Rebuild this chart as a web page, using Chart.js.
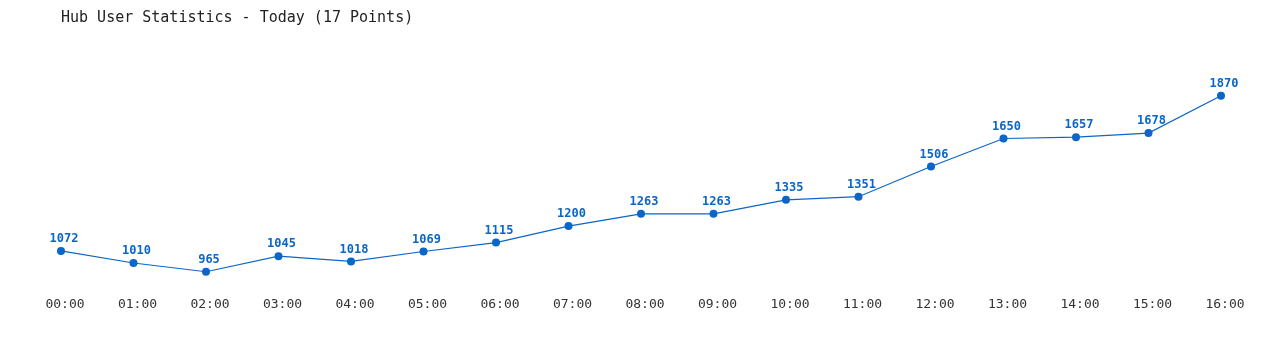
<!DOCTYPE html>
<html lang="en">
<head>
  <meta charset="UTF-8" />
  <title>Hub User Statistics</title>
  <script src="https://cdn.jsdelivr.net/npm/chart.js"></script>
  <style>
    body {
      margin: 0;
      background: #fff;
    }
    .wrap {
      width: 1280px;
      height: 350px;
    }
  </style>
</head>
<body>
  <div class="wrap"><canvas id="hubChart" width="1280" height="350"></canvas></div>

  <script>
    const hours = ['00:00', '01:00', '02:00', '03:00', '04:00', '05:00', '06:00', '07:00', '08:00',
                   '09:00', '10:00', '11:00', '12:00', '13:00', '14:00', '15:00', '16:00'];
    const users = [1072, 1010, 965, 1045, 1018, 1069, 1115, 1200, 1263,
                   1263, 1335, 1351, 1506, 1650, 1657, 1678, 1870];

    const MONO = "'DejaVu Sans Mono', 'Liberation Mono', monospace";
    const BLUE = '#0a66c8';

    // draws the value above every point
    const pointLabels = {
      id: 'pointLabels',
      afterDatasetsDraw(chart) {
        const ctx = chart.ctx;
        const meta = chart.getDatasetMeta(0);
        ctx.save();
        ctx.font = 'bold 12px ' + MONO;
        ctx.fillStyle = BLUE;
        ctx.textAlign = 'center';
        ctx.textBaseline = 'bottom';
        meta.data.forEach((pt, i) => {
          ctx.fillText(String(users[i]), pt.x + 3, pt.y - 6);
        });
        ctx.restore();
      }
    };

    new Chart(document.getElementById('hubChart'), {
      type: 'line',
      data: {
        labels: hours,
        datasets: [{
          data: users,
          borderColor: BLUE,
          backgroundColor: BLUE,
          borderWidth: 1.2,
          pointRadius: 4,
          pointBackgroundColor: BLUE,
          pointBorderWidth: 0,
          tension: 0,
          fill: false
        }]
      },
      options: {
        responsive: false,
        animation: false,
        layout: { padding: { left: 61, right: 59, top: 0, bottom: 26 } },
        plugins: {
          legend: { display: false },
          tooltip: { enabled: false },
          title: {
            display: true,
            text: 'Hub User Statistics - Today (17 Points)',
            align: 'start',
            color: '#222',
            font: { family: MONO, size: 15, weight: 'normal' },
            padding: { top: 9, bottom: 24 }
          }
        },
        scales: {
          x: {
            grid: { display: false, drawTicks: false },
            border: { display: false },
            ticks: {
              color: '#333',
              font: { family: MONO, size: 13 },
              padding: 12,
              labelOffset: 4,
              maxRotation: 0,
              autoSkip: false
            }
          },
          y: {
            display: false,
            min: 900,
            max: 2100
          }
        }
      },
      plugins: [pointLabels]
    });
  </script>
</body>
</html>
